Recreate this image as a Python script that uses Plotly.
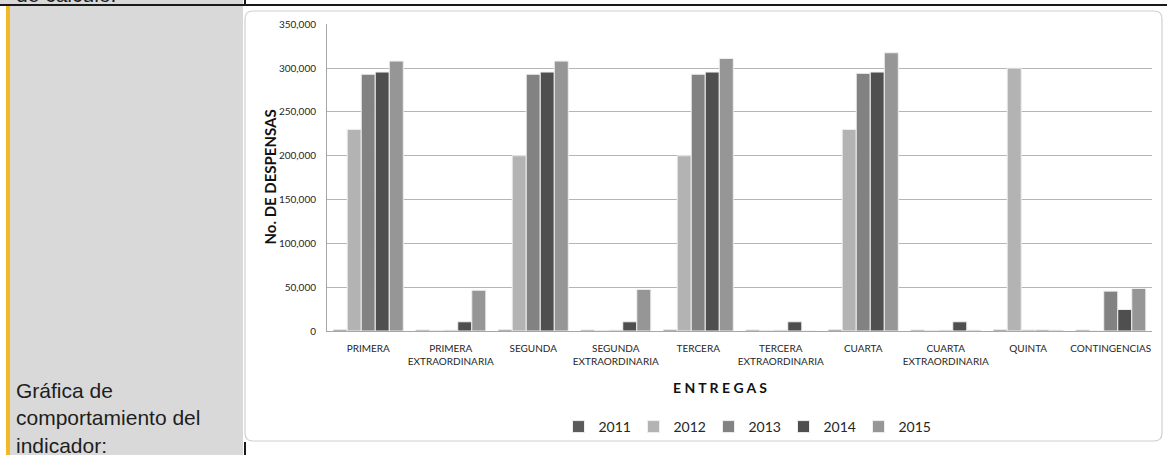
import plotly.graph_objects as go

# Entregas (categorías) y etiquetas del eje X
categories = ["PRIMERA", "PRIMERA EXTRAORDINARIA", "SEGUNDA", "SEGUNDA EXTRAORDINARIA",
              "TERCERA", "TERCERA EXTRAORDINARIA", "CUARTA", "CUARTA EXTRAORDINARIA",
              "QUINTA", "CONTINGENCIAS"]
tick_labels = ["PRIMERA", "PRIMERA<br>EXTRAORDINARIA", "SEGUNDA", "SEGUNDA<br>EXTRAORDINARIA",
               "TERCERA", "TERCERA<br>EXTRAORDINARIA", "CUARTA", "CUARTA<br>EXTRAORDINARIA",
               "QUINTA", "CONTINGENCIAS"]

years = ["2011", "2012", "2013", "2014", "2015"]

# No. de despensas por entrega
v2011 = [1500, 1200, 1500, 1200, 1500, 1200, 1500, 1200, 1500, 1200]
v2012 = [230000, 800, 200000, 800, 200000, 800, 230000, 800, 300000, 0]
v2013 = [293000, 1000, 293000, 1000, 293000, 1000, 294000, 1000, 1200, 45500]
v2014 = [295500, 10500, 295500, 10500, 295500, 10500, 295500, 10500, 1200, 24500]
v2015 = [308000, 46500, 308000, 47500, 311000, 0, 317500, 1000, 1000, 48500]

bar_colors = ["#5b5b5b", "#b3b3b3", "#828282", "#4f4f4f", "#969696"]

W, H = 1167, 455


def fx(x):
    return x / W


def fy(y):
    return 1 - y / H


fig = go.Figure()
for name, vals, col in zip(years, [v2011, v2012, v2013, v2014, v2015], bar_colors):
    fig.add_trace(go.Bar(
        x=categories, y=vals, name=name,
        marker=dict(color=col, line=dict(color="#eeeeee", width=1)),
    ))

# chart box with rounded corners
x0, x1, y0, y1, r = 245, 1162, 11, 441, 8
box = (f"M {fx(x0 + r)},{fy(y0)} L {fx(x1 - r)},{fy(y0)} Q {fx(x1)},{fy(y0)} {fx(x1)},{fy(y0 + r)} "
       f"L {fx(x1)},{fy(y1 - r)} Q {fx(x1)},{fy(y1)} {fx(x1 - r)},{fy(y1)} "
       f"L {fx(x0 + r)},{fy(y1)} Q {fx(x0)},{fy(y1)} {fx(x0)},{fy(y1 - r)} "
       f"L {fx(x0)},{fy(y0 + r)} Q {fx(x0)},{fy(y0)} {fx(x0 + r)},{fy(y0)} Z")

shapes = [
    dict(type="rect", x0=fx(0), x1=fx(243), y0=fy(455), y1=fy(0), fillcolor="#d9d9d9", line_width=0),
    dict(type="rect", x0=fx(0), x1=fx(6), y0=fy(455), y1=fy(6), fillcolor="white", line_width=0),
    dict(type="rect", x0=fx(6), x1=fx(10), y0=fy(455), y1=fy(6), fillcolor="#f2b825", line_width=0),
    dict(type="rect", x0=fx(0), x1=fx(1167), y0=fy(6), y1=fy(4), fillcolor="#1a1a1a", line_width=0),
    dict(type="rect", x0=fx(244), x1=fx(246), y0=fy(5), y1=fy(0), fillcolor="#1a1a1a", line_width=0),
    dict(type="rect", x0=fx(244), x1=fx(246), y0=fy(455), y1=fy(442), fillcolor="#1a1a1a", line_width=0),
    dict(type="path", path=box, fillcolor="white", line=dict(color="#cfcfcf", width=1.2)),
]
for s in shapes:
    s.update(xref="paper", yref="paper", layer="below")

fig.update_layout(
    width=W, height=H,
    margin=dict(l=0, r=0, t=0, b=0, pad=0, autoexpand=False),
    paper_bgcolor="white", plot_bgcolor="rgba(0,0,0,0)",
    barmode="group", bargap=0.15, bargroupgap=0,
    font=dict(family="Lato", color="#262626"),
    shapes=shapes,
    xaxis=dict(
        domain=[fx(327), fx(1152)], automargin=False,
        tickvals=categories, ticktext=tick_labels,
        tickfont=dict(size=10, color="#262626"),
        showline=True, linecolor="#a6a6a6", linewidth=1,
        showgrid=False, ticks="", ticklabelstandoff=8,
    ),
    yaxis=dict(
        domain=[fy(331), fy(24.3)], automargin=False,
        range=[0, 350000], dtick=50000, tickformat=",",
        tickfont=dict(size=10, color="#262626"),
        showline=True, linecolor="#a6a6a6", linewidth=1,
        gridcolor="#b5b5b5", gridwidth=1, zeroline=False,
        ticks="", ticklabelstandoff=8,
    ),
    legend=dict(
        orientation="h", x=fx(746), xanchor="center", y=fy(427), yanchor="middle",
        font=dict(size=14, color="#262626"), bgcolor="rgba(0,0,0,0)",
        itemwidth=30, entrywidth=30,
    ),
    annotations=[
        dict(text="<b>No. DE DESPENSAS</b>", x=fx(270), y=fy(177.5), textangle=-90,
             xanchor="center", yanchor="middle",
             font=dict(size=15, color="#111111"), showarrow=False),
        dict(text="<b>E N T R E G A S</b>", x=fx(720), y=fy(387),
             xanchor="center", yanchor="middle",
             font=dict(size=14, color="#111111"), showarrow=False),
        dict(text="Gráfica de<br>comportamiento del<br>indicador:", x=fx(14), y=fy(377),
             xanchor="left", yanchor="top", align="left",
             font=dict(family="Liberation Sans", size=21, color="#1e1e1e"), showarrow=False),
        dict(text="de cálculo:", x=fx(14), y=fy(8), xanchor="left", yanchor="bottom",
             font=dict(family="Liberation Sans", size=21, color="#1e1e1e"), showarrow=False),
    ],
)
for a in fig.layout.annotations:
    a.update(xref="paper", yref="paper")

fig.write_html("out.html", config={"displayModeBar": False},
               post_script="document.body.style.margin='0';document.body.style.overflow='hidden';")
